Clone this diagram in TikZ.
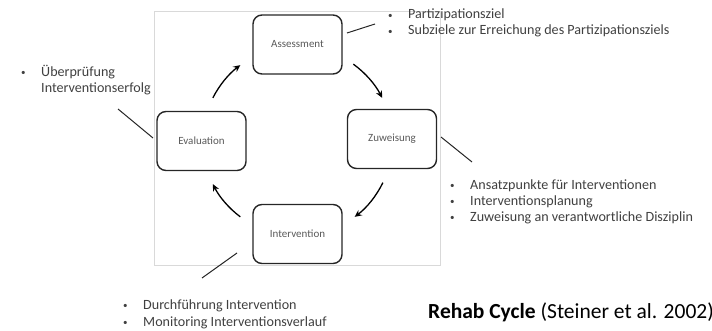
\documentclass[tikz,border=0pt]{standalone}
\usepackage{fontspec}
\setmainfont{Carlito}
\usetikzlibrary{arrows.meta,calc}
\definecolor{txt}{HTML}{404040}
\definecolor{lbl}{HTML}{595959}
\tikzset{
  phase/.style={draw=black!85, line width=1.4pt, rounded corners=9pt,
    minimum width=89pt, minimum height=59pt, inner sep=0pt,
    font=\fontsize{11}{13}\selectfont, text=lbl},
  cycarrow/.style={line width=1.3pt, -{Stealth[length=7pt,width=6.5pt]}},
  callout/.style={line width=1pt, black!85},
  notes/.style={anchor=north west, align=left, inner sep=0pt,
    font=\fontsize{14.1}{16}\selectfont, text=txt},
  frame/.style={draw=black!15, line width=0.6pt}
}
\newcommand{\bul}{\makebox[20pt][l]{\raisebox{0.8pt}{\fontsize{9}{9}\selectfont\textbullet}}}
\begin{document}
\begin{tikzpicture}[x=1pt,y=1pt]
\useasboundingbox (0,0) rectangle (712,330);
% light frame behind the cycle
\draw[frame] (154,65) rectangle (440,319);

% the four phases
\node[phase] (as) at (297.5,285.5) {Assessment};
\node[phase] (ev) at (201.5,189) {Evaluation};
\node[phase] (zu) at (392,191) {Zuweisung};
\node[phase] (iv) at (297.5,96) {Intervention};

% centre of the cycle
\coordinate (hub) at (as |- ev);

% curved arrows between the phases
\draw[cycarrow] ($(hub)+(153:95pt)$) arc[start angle=153, end angle=127, radius=95pt];
\draw[cycarrow] ($(hub)+(54:95pt)$) arc[start angle=54, end angle=27, radius=95pt];
\draw[cycarrow] ($(hub)+(-26:95pt)$) arc[start angle=-26, end angle=-53, radius=95pt];
\draw[cycarrow] ($(hub)+(-127:95pt)$) arc[start angle=-127, end angle=-153, radius=95pt];

% notes
\node[notes] (nas) at (388,321) {\bul Partizipationsziel\\ \bul Subziele zur Erreichung des Partizipationsziels};
\node[notes] (nev) at (21,265) {\bul Überprüfung\\ \hspace*{20pt}Interventionserfolg};
\node[notes] (nzu) at (450,150.5) {\bul Ansatzpunkte für Interventionen\\ \bul Interventionsplanung\\ \bul Zuweisung an verantwortliche Disziplin};
\node[notes, font=\fontsize{14.1}{17}\selectfont] (niv) at (123,30.5) {\bul Durchführung Intervention\\ \bul Monitoring Interventionsverlauf};

% callout lines
\coordinate (as1) at (347,297); \coordinate (as2) at (375,306);
\coordinate (ev1) at (153,192); \coordinate (ev2) at (118,221);
\coordinate (zu1) at (441,193); \coordinate (zu2) at (472,168);
\coordinate (iv1) at (237,77);  \coordinate (iv2) at (202,52);
\draw[callout] (as1) -- (as2);
\draw[callout] (ev1) -- (ev2);
\draw[callout] (zu1) -- (zu2);
\draw[callout] (iv1) -- (iv2);

% caption
\node[anchor=base west, inner sep=0pt, font=\fontsize{21.5}{25}\selectfont] (cap) at (428,12)
  {\textbf{Rehab Cycle} (Steiner et al. 2002)};
\end{tikzpicture}
\end{document}
